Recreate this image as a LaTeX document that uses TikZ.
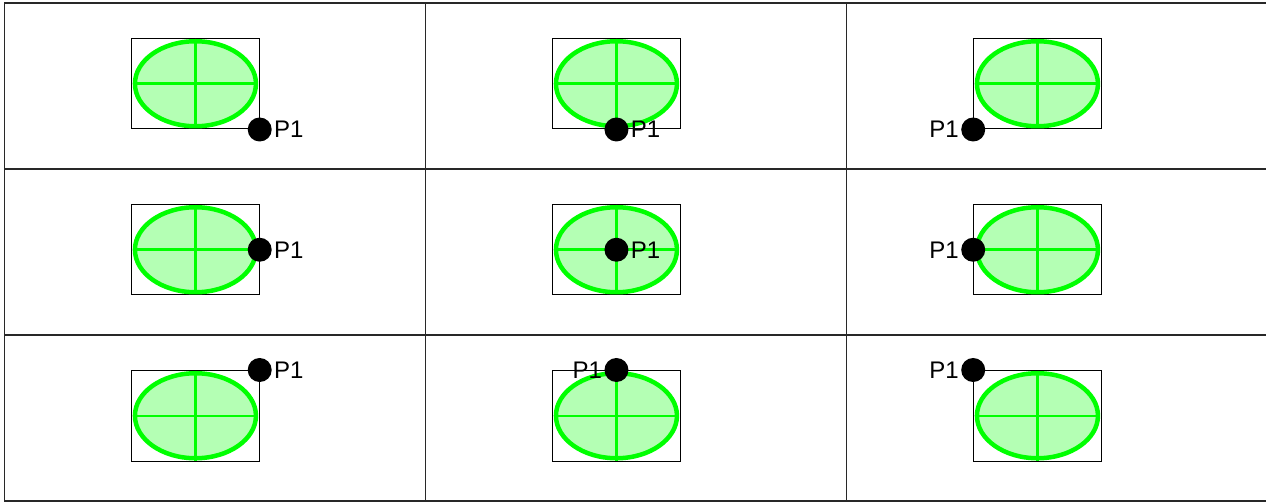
\documentclass[tikz,border=0pt]{standalone}
\usepackage{fontspec}
\setmainfont{Liberation Sans}
\definecolor{markgreen}{RGB}{0,255,0}
\definecolor{palegreen}{RGB}{180,255,180}
\definecolor{framegray}{RGB}{40,40,40}
\usetikzlibrary{shapes.geometric}

\begin{document}
\begin{tikzpicture}[x=1pt, y=-1pt,
  cellframe/.style={draw=framegray, line width=1.5pt},
  bbox/.style={draw=black, line width=1pt, minimum width=127.5pt,
    minimum height=90.5pt, inner sep=0pt},
  blob/.style={ellipse, draw=markgreen, fill=palegreen, line width=4.5pt,
    minimum width=121pt, minimum height=85pt, inner sep=0pt},
  cross/.style={draw=markgreen, line width=2.5pt},
  pin/.style={circle, fill=black, minimum size=24pt, inner sep=0pt},
  tag/.style={font=\fontsize{24}{28}\selectfont, inner sep=2pt},
]
\clip (0,0) rectangle (1266,502);

% Grid of cells (right border falls outside the page)
\foreach \row in {0,1,2}
  \foreach \col in {0,1,2}
    \draw[cellframe] ({4.7+421*\col},{3+166*\row}) rectangle ++(421,166);

% One box, ellipse and point per cell: row/col/anchor on box/label anchor/pin side
\foreach \row/\col/\at/\lab/\opp in {
    0/0/south east/west/east, 0/1/south/west/east, 0/2/south west/east/west,
    1/0/east/west/east,       1/1/center/west/east, 1/2/west/east/west,
    2/0/north east/west/east, 2/1/north/east/west,  2/2/north west/east/west} {
  \node[bbox] (r\row\col) at ({4.7+421*\col+190.75},{3+166*\row+80.75}) {};
  \node[blob] (e\row\col) at (r\row\col.center) {};
  \draw[cross] (e\row\col.north) -- (e\row\col.south);
  \draw[cross] (e\row\col.west) -- (e\row\col.east);
  \node[pin] (p\row\col) at (r\row\col.\at) {};
  \node[tag, anchor=\lab] (t\row\col) at (p\row\col.\opp) {P1};
}
\end{tikzpicture}
\end{document}
